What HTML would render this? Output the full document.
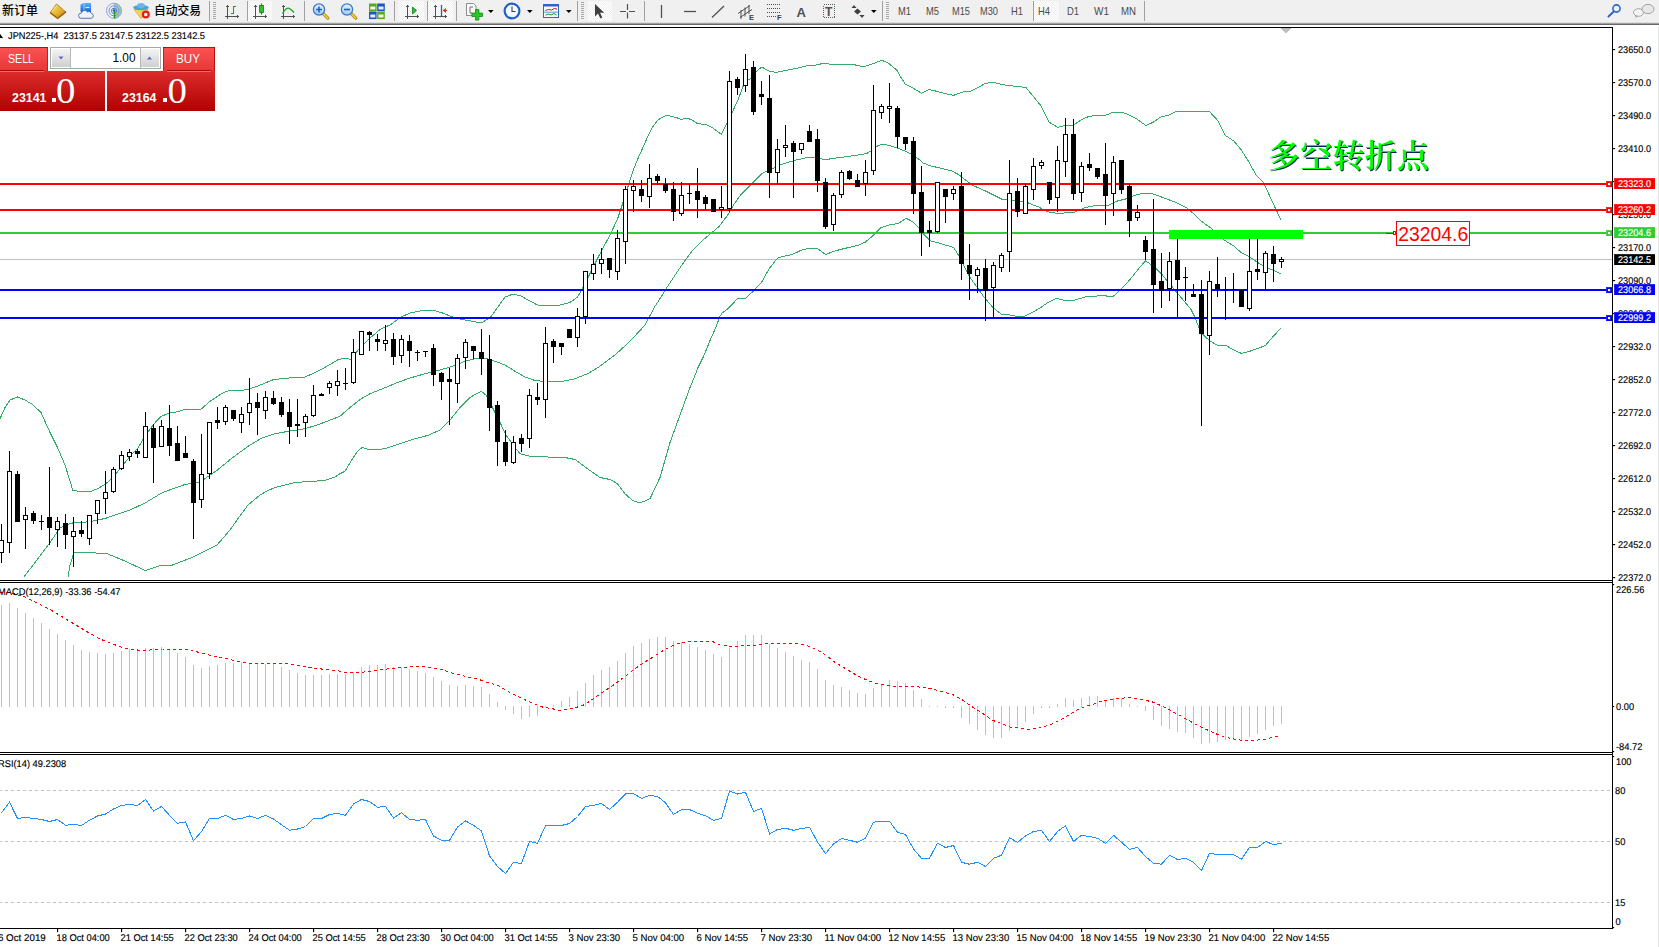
<!DOCTYPE html>
<html><head><meta charset="utf-8"><title>JPN225-,H4</title>
<style>
html,body{margin:0;padding:0;background:#fff;overflow:hidden}
body{width:1659px;height:947px;font-family:"Liberation Sans","Noto Sans CJK SC",sans-serif}
svg{display:block;position:absolute;left:0;top:0}
text{white-space:pre}
</style></head><body>
<svg width="1659" height="947" viewBox="0 0 1659 947">
<g shape-rendering="crispEdges">
<rect x="0" y="25" width="1659" height="922" fill="#fff"/>
<rect x="0" y="27" width="1613" height="1" fill="#000"/>
<rect x="1612" y="27" width="1" height="902" fill="#000"/>
<rect x="0" y="580" width="1613" height="1" fill="#000"/>
<rect x="0" y="582" width="1613" height="1" fill="#000"/>
<rect x="0" y="752" width="1613" height="1" fill="#000"/>
<rect x="0" y="754" width="1613" height="1" fill="#000"/>
<rect x="0" y="928" width="1613" height="1" fill="#000"/>
<rect x="1658" y="25" width="1" height="922" fill="#e3e3e3"/>
<rect x="0" y="259" width="1612" height="1" fill="#c0c0c0"/>
</g>
<g shape-rendering="crispEdges">
<polyline points="0,418.75 5,407.5 10,400 17.5,397 25,400 32.5,404.5 41,412.5 50,432.5 57.5,447.5 65,465 73,490.75 81,491.25 89,492 97.5,488.75 105,484.5 114,476.25 121,467.5 130,456.25 137.5,448.75 145,436.25 153,425 161,416.25 170,413 177.5,411.75 185,409.5 201,409.25 210,401.25 217.5,396.25 226,391.25 234,390 241,390.75 250,388.75 257.5,386.25 265,383 272.5,380 281,378.75 289,378 305,377 312.5,373.75 321,369.5 329,365 337.5,360 341,359 346,358 351,359.5 360,347.5 370,338 381,328.75 391,324.5 400,317.5 410,313 422.5,310.5 434,310.5 442.5,313 452.5,317 462.5,319.5 472.5,321.25 481,323 490,318 497.5,307.5 505,297 512.5,294.25 520,295.5 529,300.5 537.5,305 547.5,305.5 560,305 570,302.5 577.5,297 583.9,285.9 593.3,267 602,249.7 610,235.2 617.9,217.9 623.7,200.5 629.4,182 633.3,170 637.6,159.4 641.5,150.8 645.3,142.1 649.2,133.4 653,126.6 657.4,120.4 661.7,117.5 666.5,115.3 671.4,116.2 676.2,117.5 681,119.4 687.8,118.3 692.6,120.4 697.4,123.6 706.1,124.5 712.8,128.1 721.5,134.4 727.3,122.8 732.1,112.7 737.9,100 743.7,84.8 748,79.8 752.3,77.9 756.7,71.1 761.7,67 768.3,70.8 776.2,72.5 785.6,70.4 795.7,68.5 807.3,65.6 816,65 824.7,63.1 831.9,64.6 842,64.6 853.6,64.6 863.7,66.8 872.4,63.9 881.8,60.3 888.3,63.1 897,70.4 900,75.9 905.1,83.9 913,88.2 921.7,93.3 928.9,89.4 937.6,91.5 944.9,93.6 953.5,95.4 962.2,92.1 970.9,91.1 978.1,87.5 985.4,83.4 992.6,82.1 1001.3,84.3 1010,85.8 1018.7,86.5 1025.9,87.5 1033.1,96.2 1040.3,104.9 1044.7,113.5 1049,122.2 1057.7,127.3 1064.9,125.5 1073.6,125.1 1080.8,120 1088.1,116.7 1095.3,115.4 1105.4,115.4 1112.7,112.4 1121.3,112.1 1128.6,114.7 1137.3,119.3 1145.7,125.5 1153,122.4 1160.2,117.3 1168.9,115.1 1176.1,111.5 1189.1,111.5 1197.8,111.1 1209.4,111.5 1218.1,120.9 1225.3,135.4 1234,141.2 1241.2,149.9 1248.5,161.4 1255.7,174.4 1262.9,181.7 1267.3,190.4 1270,196.9 1275.6,208.7 1280.9,219.6" fill="none" stroke="#33ab69" stroke-width="1"/>
<polyline points="24,577 30,569 40,556 50,542.5 60,528 66,525 72.5,523 89,521.75 105,518.5 130,510 145,503 162.5,492.5 185,484.5 200,482 217.5,470 232,458 250,445 262,438 275,433.75 290,431 305,428.75 320,424 340,416.25 350,407.5 360,399.5 370,393.75 382.5,388.75 397.5,382.5 410,378 425,373.75 440,370 452.5,366.25 465,361.25 475,358.75 485,358 495,361.25 505,365 515,371.25 525,377 535,380.5 547.5,381.75 562.5,381.25 575,378.75 587.5,373.75 600,366.25 615,355 630,341.25 645,325 655,306.25 661.3,296.7 667,287.3 675.7,274.3 684.4,261.3 693.1,249.7 701.8,241 710.5,233.8 719.1,226.5 727.8,215 733.6,204.8 740.8,194.7 748.1,187.5 755.3,180.3 762.5,173.1 769.7,170.2 781.3,164.4 795.7,160.1 807.3,157.5 816,157.2 824.7,159.8 836.3,157.9 847.8,156.5 858,155 866.6,153.6 872.4,150 876.8,146.3 882.5,144.2 889.8,145.6 897,147.8 905.7,151.4 912.9,155 920,160.1 923,162.9 930.2,165.9 938.9,167.7 951.9,171 959.1,174.9 966.4,180.7 973.6,185.8 985.2,190.8 993.9,195.2 1002.5,199.5 1009.8,199.8 1018.5,201 1025.7,201.7 1031.5,204.3 1038.7,207 1047.4,211.8 1057.5,213.5 1074.9,212.1 1085,207.7 1095.1,205.6 1108.1,205.3 1116.8,201.2 1125.5,199 1134.2,195.4 1144.3,193 1153,194 1163.1,197.6 1174.7,201.9 1186.3,207.7 1193.5,213.5 1200.7,220.8 1210.9,228 1219.5,236.7 1226.8,241.7 1234.3,246.4 1241.5,252.9 1250.2,257.2 1257.4,262.3 1266.1,267.3 1273.4,270.2 1280.9,273.8" fill="none" stroke="#33ab69" stroke-width="1"/>
<polyline points="68,577 70,565 74,552.5 89,552.5 107,553.75 125,561 145,570.5 150,569 162,565 170,566 192,557.5 217,545 230,530 237,520 248,505 260,495 268,490.5 275,487.5 295,482.5 325,480.5 335,477 340,473.75 345,471.25 352.5,458.75 357.5,451.25 362,447.5 370,450 385,448.75 397.5,444.5 415,438.75 427.5,435.5 440,430 450,420 460,407.5 470,397.5 481,391.25 486,395 492.5,407.5 500,422.5 506,435 515,447.5 520,453.75 530,456.25 547.5,457 565,457.5 575,459.5 587.5,468.75 600,477.5 610,479.5 617.5,483.75 625,493.75 632.5,500.5 640,503 650,498.75 660,477.5 670,442.5 680,415 690,387.5 694.5,376.7 698.1,367.3 703.9,355.7 709.7,341.3 715.5,328.2 719.8,316.7 722,313.1 727.1,309.4 732.8,303.7 737.5,298.6 745.1,298.6 753.1,291.4 761.8,282 769,268.9 777,258.8 779.1,257.4 792.2,254.5 800.8,250.4 808.1,248.4 817.5,248.4 825.4,254.5 836.2,250.6 847.7,247.7 857.9,245.4 865.1,242.2 872.3,236.4 881,227.7 889.7,224.8 898.4,223.4 906.3,218.3 912.8,221.9 918.6,227.7 924.4,235 930.2,240.8 938.9,242.9 944.7,244.8 953.4,247.3 957.7,253.8 963.7,265.1 969.4,276.7 976.7,286.8 983.9,296.9 992.6,307.1 1001.3,314.3 1010,315 1017.2,316.5 1024.4,316.5 1033.1,312.1 1040.3,307.8 1047.6,302.7 1056.2,298.4 1064.9,300.5 1073.6,300.3 1088.1,296.2 1102.5,295.9 1113.4,296.2 1121.3,289 1130,279.6 1137.4,270.2 1145.3,260.8 1153.3,265.9 1162,274.6 1169.2,283.2 1176.4,291.9 1183.7,300.6 1190.9,309.3 1195.2,318 1198.9,327.4 1202.5,334 1209.7,340.9 1217.7,345.3 1225.6,345.3 1233.6,349.9 1241.5,353.5 1249.5,351.4 1257.4,348.5 1265.4,345.6 1273.3,336.2 1280.9,328.2" fill="none" stroke="#33ab69" stroke-width="1"/>
</g>
<g shape-rendering="crispEdges">
<rect x="0" y="183" width="1612" height="2" fill="#ff0000"/>
<rect x="0" y="209" width="1612" height="2" fill="#ff0000"/>
<rect x="0" y="232" width="1612" height="2" fill="#32cd32"/>
<rect x="0" y="289" width="1612" height="2" fill="#0000ff"/>
<rect x="0" y="317" width="1612" height="2" fill="#0000ff"/>
<rect x="1169" y="230" width="134" height="9" fill="#00ff00"/>
</g>
<g shape-rendering="crispEdges">
<path d="M1 524v39h1v-39zM9 451v102h1v-102zM17 471v51h1v-51zM25 507v42h1v-42zM33 511v13h1v-13zM41 515v15h1v-15zM49 467v78h1v-78zM57 517v30h1v-30zM65 514v35h1v-35zM73 517v50h1v-50zM81 521v16h1v-16zM89 515v30h1v-30zM97 500v24h1v-24zM105 471v43h1v-43zM113 467v26h1v-26zM121 451v19h1v-19zM129 449v12h1v-12zM137 449v9h1v-9zM145 412v45h1v-45zM153 424v59h1v-59zM161 420v26h1v-26zM169 405v51h1v-51zM177 426v35h1v-35zM185 436v22h1v-22zM193 459v80h1v-80zM201 434v74h1v-74zM209 422v57h1v-57zM217 407v22h1v-22zM225 405v20h1v-20zM233 410v11h1v-11zM241 407v26h1v-26zM249 378v47h1v-47zM257 393v42h1v-42zM265 391v28h1v-28zM273 391v14h1v-14zM281 397v20h1v-20zM289 399v45h1v-45zM297 399v38h1v-38zM305 414v23h1v-23zM313 385v32h1v-32zM321 393v3h1v-3zM329 381v13h1v-13zM337 370v26h1v-26zM345 368v22h1v-22zM353 339v45h1v-45zM361 331v24h1v-24zM369 331v20h1v-20zM377 334v17h1v-17zM385 325v26h1v-26zM393 333v32h1v-32zM401 335v28h1v-28zM409 335v32h1v-32zM417 350v11h1v-11zM425 351v6h1v-6zM433 344v42h1v-42zM441 372v28h1v-28zM449 368v57h1v-57zM457 354v49h1v-49zM465 339v30h1v-30zM473 346v13h1v-13zM481 329v46h1v-46zM489 335v96h1v-96zM497 401v65h1v-65zM505 430v36h1v-36zM513 436v28h1v-28zM521 434v18h1v-18zM529 389v59h1v-59zM537 383v22h1v-22zM545 327v91h1v-91zM553 339v24h1v-24zM561 343v12h1v-12zM569 329v9h1v-9zM577 308v39h1v-39zM585 271v53h1v-53zM593 254v26h1v-26zM601 248v26h1v-26zM609 258v20h1v-20zM617 230v50h1v-50zM625 186v78h1v-78zM633 180v32h1v-32zM641 180v22h1v-22zM649 164v44h1v-44zM657 174v11h1v-11zM665 178v15h1v-15zM673 182v39h1v-39zM681 182v34h1v-34zM689 184v20h1v-20zM697 168v50h1v-50zM705 195v15h1v-15zM713 199v13h1v-13zM721 186v32h1v-32zM729 71v141h1v-141zM737 77v18h1v-18zM745 54v38h1v-38zM753 61v54h1v-54zM761 81v24h1v-24zM769 75v123h1v-123zM777 139v45h1v-45zM785 125v32h1v-32zM793 141v57h1v-57zM801 143v11h1v-11zM809 125v17h1v-17zM817 129v63h1v-63zM825 178v51h1v-51zM833 193v38h1v-38zM841 170v28h1v-28zM849 170v10h1v-10zM857 174v13h1v-13zM865 160v36h1v-36zM873 85v90h1v-90zM881 104v15h1v-15zM889 83v40h1v-40zM897 106v42h1v-42zM905 137v13h1v-13zM913 137v77h1v-77zM921 166v90h1v-90zM929 221v26h1v-26zM937 182v51h1v-51zM945 189v34h1v-34zM953 186v14h1v-14zM961 172v108h1v-108zM969 244v56h1v-56zM977 267v26h1v-26zM985 259v62h1v-62zM993 262v56h1v-56zM1001 253v19h1v-19zM1009 160v112h1v-112zM1017 178v39h1v-39zM1025 184v30h1v-30zM1033 158v42h1v-42zM1041 160v9h1v-9zM1049 182v22h1v-22zM1057 146v66h1v-66zM1065 118v59h1v-59zM1073 119v81h1v-81zM1081 162v40h1v-40zM1089 153v18h1v-18zM1097 168v11h1v-11zM1105 143v82h1v-82zM1113 156v60h1v-60zM1121 160v34h1v-34zM1129 184v53h1v-53zM1137 205v16h1v-16zM1145 236v24h1v-24zM1153 199v114h1v-114zM1161 253v55h1v-55zM1169 252v49h1v-49zM1177 239v79h1v-79zM1185 267v34h1v-34zM1193 284v13h1v-13zM1201 280v146h1v-146zM1209 271v84h1v-84zM1217 257v40h1v-40zM1225 277v43h1v-43zM1233 273v30h1v-30zM1241 290v17h1v-17zM1249 239v72h1v-72zM1257 239v41h1v-41zM1265 251v40h1v-40zM1273 246v36h1v-36zM1281 257v11h1v-11z" fill="#000"/>
<path d="M-1 540h5v13h-5zM7 471h5v72h-5zM15 474h5v48h-5zM23 515h5v5h-5zM31 513h5v8h-5zM39 521h5v1h-5zM47 517h5v11h-5zM55 521h5v9h-5zM63 523h5v12h-5zM71 531h5v6h-5zM79 530h5v4h-5zM87 515h5v24h-5zM95 500h5v14h-5zM103 492h5v7h-5zM111 469h5v23h-5zM119 455h5v14h-5zM127 452h5v5h-5zM135 451h5v3h-5zM143 426h5v32h-5zM151 428h5v20h-5zM159 426h5v21h-5zM167 428h5v18h-5zM175 443h5v18h-5zM183 453h5v5h-5zM191 461h5v42h-5zM199 474h5v26h-5zM207 422h5v52h-5zM215 420h5v3h-5zM223 407h5v15h-5zM231 410h5v9h-5zM239 414h5v9h-5zM247 403h5v10h-5zM255 402h5v6h-5zM263 397h5v14h-5zM271 398h5v6h-5zM279 402h5v13h-5zM287 412h5v15h-5zM295 424h5v2h-5zM303 416h5v7h-5zM311 395h5v21h-5zM319 394h5v2h-5zM327 383h5v5h-5zM335 381h5v5h-5zM343 383h5v1h-5zM351 352h5v31h-5zM359 331h5v24h-5zM367 332h5v3h-5zM375 339h5v3h-5zM383 340h5v4h-5zM391 339h5v18h-5zM399 339h5v17h-5zM407 341h5v10h-5zM415 352h5v1h-5zM423 351h5v1h-5zM431 348h5v27h-5zM439 373h5v9h-5zM447 379h5v3h-5zM455 358h5v26h-5zM463 342h5v16h-5zM471 346h5v5h-5zM479 352h5v7h-5zM487 359h5v49h-5zM495 405h5v37h-5zM503 442h5v20h-5zM511 442h5v21h-5zM519 438h5v6h-5zM527 395h5v44h-5zM535 397h5v3h-5zM543 343h5v57h-5zM551 341h5v6h-5zM559 343h5v4h-5zM567 329h5v9h-5zM575 316h5v22h-5zM583 271h5v46h-5zM591 264h5v10h-5zM599 259h5v5h-5zM607 258h5v12h-5zM615 238h5v34h-5zM623 189h5v53h-5zM631 186h5v5h-5zM639 189h5v7h-5zM647 178h5v19h-5zM655 176h5v5h-5zM663 184h5v7h-5zM671 189h5v23h-5zM679 195h5v19h-5zM687 193h5v1h-5zM695 191h5v9h-5zM703 197h5v7h-5zM711 199h5v13h-5zM719 207h5v3h-5zM727 81h5v128h-5zM735 79h5v9h-5zM743 69h5v17h-5zM751 67h5v45h-5zM759 94h5v3h-5zM767 98h5v75h-5zM775 149h5v24h-5zM783 145h5v3h-5zM791 143h5v9h-5zM799 143h5v7h-5zM807 131h5v11h-5zM815 139h5v42h-5zM823 182h5v45h-5zM831 195h5v30h-5zM839 172h5v23h-5zM847 171h5v8h-5zM855 180h5v7h-5zM863 172h5v12h-5zM871 110h5v61h-5zM879 106h5v7h-5zM887 106h5v3h-5zM895 108h5v29h-5zM903 137h5v7h-5zM911 141h5v53h-5zM919 192h5v41h-5zM927 230h5v3h-5zM935 182h5v50h-5zM943 189h5v8h-5zM951 189h5v5h-5zM959 186h5v78h-5zM967 265h5v9h-5zM975 269h5v7h-5zM983 268h5v23h-5zM991 265h5v23h-5zM999 255h5v13h-5zM1007 193h5v59h-5zM1015 191h5v21h-5zM1023 186h5v28h-5zM1031 166h5v24h-5zM1039 162h5v4h-5zM1047 182h5v18h-5zM1055 160h5v38h-5zM1063 134h5v28h-5zM1071 134h5v60h-5zM1079 166h5v27h-5zM1087 164h5v4h-5zM1095 168h5v9h-5zM1103 174h5v22h-5zM1111 162h5v32h-5zM1119 160h5v30h-5zM1127 186h5v35h-5zM1135 212h5v6h-5zM1143 240h5v12h-5zM1151 249h5v36h-5zM1159 281h5v10h-5zM1167 261h5v28h-5zM1175 260h5v20h-5zM1183 277h5v1h-5zM1191 294h5v3h-5zM1199 294h5v40h-5zM1207 281h5v55h-5zM1215 284h5v5h-5zM1223 289h5v1h-5zM1231 289h5v1h-5zM1239 290h5v17h-5zM1247 271h5v38h-5zM1255 269h5v3h-5zM1263 253h5v20h-5zM1271 254h5v10h-5zM1279 259h5v3h-5z" fill="#000"/>
<path d="M0 541h3v11h-3zM8 472h3v70h-3zM24 516h3v3h-3zM56 522h3v7h-3zM72 532h3v4h-3zM88 516h3v22h-3zM96 501h3v12h-3zM104 493h3v5h-3zM112 470h3v21h-3zM120 456h3v12h-3zM128 453h3v3h-3zM144 427h3v30h-3zM160 427h3v19h-3zM200 475h3v24h-3zM208 423h3v50h-3zM224 408h3v13h-3zM240 415h3v7h-3zM248 404h3v8h-3zM264 398h3v12h-3zM304 417h3v5h-3zM312 396h3v19h-3zM328 384h3v3h-3zM336 382h3v3h-3zM352 353h3v29h-3zM360 332h3v22h-3zM384 341h3v2h-3zM400 340h3v15h-3zM456 359h3v24h-3zM464 343h3v14h-3zM512 443h3v19h-3zM528 396h3v42h-3zM544 344h3v55h-3zM576 317h3v20h-3zM584 272h3v44h-3zM592 265h3v8h-3zM600 260h3v3h-3zM616 239h3v32h-3zM624 190h3v51h-3zM632 187h3v3h-3zM648 179h3v17h-3zM680 196h3v17h-3zM720 208h3v1h-3zM728 82h3v126h-3zM744 70h3v15h-3zM776 150h3v22h-3zM784 146h3v1h-3zM800 144h3v5h-3zM832 196h3v28h-3zM840 173h3v21h-3zM864 173h3v10h-3zM872 111h3v59h-3zM880 107h3v5h-3zM888 107h3v1h-3zM936 183h3v48h-3zM952 190h3v3h-3zM976 270h3v5h-3zM992 266h3v21h-3zM1000 256h3v11h-3zM1008 194h3v57h-3zM1024 187h3v26h-3zM1032 167h3v22h-3zM1040 163h3v2h-3zM1056 161h3v36h-3zM1064 135h3v26h-3zM1080 167h3v25h-3zM1112 163h3v30h-3zM1136 213h3v4h-3zM1168 262h3v26h-3zM1208 282h3v53h-3zM1248 272h3v36h-3zM1264 254h3v18h-3zM1280 260h3v1h-3z" fill="#fff"/>
</g>
<g shape-rendering="crispEdges">
<path d="M1 605v102h1v-102zM9 603v104h1v-104zM17 608v99h1v-99zM25 613v94h1v-94zM33 618v89h1v-89zM41 623v84h1v-84zM49 629v78h1v-78zM57 634v73h1v-73zM65 640v67h1v-67zM73 645v62h1v-62zM81 650v57h1v-57zM89 652v55h1v-55zM97 653v54h1v-54zM105 654v53h1v-53zM113 653v54h1v-54zM121 651v56h1v-56zM129 649v58h1v-58zM137 649v58h1v-58zM145 648v59h1v-59zM153 648v59h1v-59zM161 647v60h1v-60zM169 650v57h1v-57zM177 653v54h1v-54zM185 657v50h1v-50zM193 665v42h1v-42zM201 668v39h1v-39zM209 666v41h1v-41zM217 665v42h1v-42zM225 663v44h1v-44zM233 663v44h1v-44zM241 662v45h1v-45zM249 663v44h1v-44zM257 664v43h1v-43zM265 664v43h1v-43zM273 664v43h1v-43zM281 667v40h1v-40zM289 670v37h1v-37zM297 673v34h1v-34zM305 675v32h1v-32zM313 675v32h1v-32zM321 675v32h1v-32zM329 674v33h1v-33zM337 674v33h1v-33zM345 674v33h1v-33zM353 672v35h1v-35zM361 667v40h1v-40zM369 665v42h1v-42zM377 665v42h1v-42zM385 664v43h1v-43zM393 667v40h1v-40zM401 668v39h1v-39zM409 669v38h1v-38zM417 671v36h1v-36zM425 673v34h1v-34zM433 677v30h1v-30zM441 681v26h1v-26zM449 685v22h1v-22zM457 686v21h1v-21zM465 685v22h1v-22zM473 686v21h1v-21zM481 687v20h1v-20zM489 694v13h1v-13zM497 702v5h1v-5zM505 706v4h1v-4zM513 706v8h1v-8zM521 706v13h1v-13zM529 706v11h1v-11zM537 706v10h1v-10zM545 706v1h1v-1zM553 705v2h1v-2zM561 701v6h1v-6zM569 697v10h1v-10zM577 691v16h1v-16zM585 683v24h1v-24zM593 675v32h1v-32zM601 670v37h1v-37zM609 667v40h1v-40zM617 661v46h1v-46zM625 653v54h1v-54zM633 646v61h1v-61zM641 643v64h1v-64zM649 639v68h1v-68zM657 637v70h1v-70zM665 637v70h1v-70zM673 641v66h1v-66zM681 642v65h1v-65zM689 644v63h1v-63zM697 647v60h1v-60zM705 650v57h1v-57zM713 654v53h1v-53zM721 657v50h1v-50zM729 648v59h1v-59zM737 641v66h1v-66zM745 635v72h1v-72zM753 635v72h1v-72zM761 635v72h1v-72zM769 644v63h1v-63zM777 648v59h1v-59zM785 652v55h1v-55zM793 656v51h1v-51zM801 660v47h1v-47zM809 662v45h1v-45zM817 669v38h1v-38zM825 680v27h1v-27zM833 685v22h1v-22zM841 687v20h1v-20zM849 690v17h1v-17zM857 693v14h1v-14zM865 694v13h1v-13zM873 688v19h1v-19zM881 684v23h1v-23zM889 680v27h1v-27zM897 681v26h1v-26zM905 683v24h1v-24zM913 690v17h1v-17zM921 699v8h1v-8zM929 706v1h1v-1zM937 706v1h1v-1zM945 706v2h1v-2zM953 706v2h1v-2zM961 706v12h1v-12zM969 706v18h1v-18zM977 706v24h1v-24zM985 706v29h1v-29zM993 706v32h1v-32zM1001 706v32h1v-32zM1009 706v25h1v-25zM1017 706v20h1v-20zM1025 706v16h1v-16zM1033 706v8h1v-8zM1041 706v2h1v-2zM1049 706v2h1v-2zM1057 704v3h1v-3zM1065 698v9h1v-9zM1073 700v7h1v-7zM1081 698v9h1v-9zM1089 696v11h1v-11zM1097 696v11h1v-11zM1105 700v7h1v-7zM1113 698v9h1v-9zM1121 698v9h1v-9zM1129 704v3h1v-3zM1137 706v1h1v-1zM1145 706v5h1v-5zM1153 706v14h1v-14zM1161 706v20h1v-20zM1169 706v23h1v-23zM1177 706v26h1v-26zM1185 706v27h1v-27zM1193 706v32h1v-32zM1201 706v38h1v-38zM1209 706v37h1v-37zM1217 706v36h1v-36zM1225 706v34h1v-34zM1233 706v34h1v-34zM1241 706v34h1v-34zM1249 706v31h1v-31zM1257 706v28h1v-28zM1265 706v24h1v-24zM1273 706v20h1v-20zM1281 706v18h1v-18z" fill="#c0c0c0"/>
<polyline points="0,592 12.5,593.25 25,597 37.5,603.25 50,609.5 62.5,617 75,624.5 87.5,632 100,639 112.5,644 125,648.25 137.5,650 150,650 162.5,649 187.5,649 200,652.75 212.5,655.75 225,658.25 237.5,661.5 250,663.25 262.5,663.75 282.5,663.25 295,665 312.5,667.75 325,669.5 337.5,670.75 345,672.5 360,672.5 375,670.75 387.5,669 400,667.75 415,666.5 427.5,667 440,669 452.5,673.25 465,676.25 477.5,679 490,683.25 497.5,685.25 507.5,691.25 520,697.5 532.5,703.25 542.5,707 552.5,708.75 560,710.75 567.5,709.5 577.5,707 585,704.5 595,697.5 605,690.75 615,684 625,676.5 635,668.75 645,662 655,655.75 665,649.5 675,644.5 685,642 697.5,641.5 712.5,641.5 720,645 730,646.5 745,645.75 755,645.25 765,643.5 780,643.25 797.5,643.25 810,646.5 820,651.5 830,658.25 833.75,661.5 845,668.25 857.5,675.75 870,681.5 880,684.5 892.5,686.25 915,686.5 930,688.25 940,691.25 952.5,694.5 962.5,700 972.5,707 982.5,713.25 992.5,720.25 1002.5,724 1010,727 1020,728.25 1030,729.5 1040,727.75 1050,725 1060,720.25 1070,714 1080,708.25 1092.5,704.5 1102.5,700.75 1115,698.75 1130,697.5 1142.5,699.5 1152.5,702 1162.5,706.25 1172.5,711.5 1182.5,717 1192.5,722.5 1202.5,727.75 1212.7,732.3 1218,734.7 1224.7,737.2 1230.7,738.4 1236.2,739.3 1242.2,740.4 1248.2,740.4 1254.2,740.4 1260.3,739.8 1266.3,739 1272.3,737.4 1279,735.7" fill="none" stroke="#ff0000" stroke-width="1" stroke-dasharray="3 3"/>
</g>
<g shape-rendering="crispEdges">
<line x1="-1" y1="790.5" x2="1611" y2="790.5" stroke="#c0c0c0" stroke-width="1" stroke-dasharray="3 3"/>
<line x1="-1" y1="841.5" x2="1611" y2="841.5" stroke="#c0c0c0" stroke-width="1" stroke-dasharray="3 3"/>
<line x1="-1" y1="902.5" x2="1611" y2="902.5" stroke="#c0c0c0" stroke-width="1" stroke-dasharray="3 3"/>
<polyline points="1.5,812.75 9.5,802.25 17.5,818.5 25.5,817.25 33.5,818.5 41.5,819.5 49.5,821.5 57.5,819.5 65.5,825.25 73.5,824.5 81.5,825.5 89.5,820.25 97.5,816 105.5,814 113.5,809 121.5,805.5 129.5,804.5 137.5,805.5 145.5,799.5 153.5,811 161.5,806.5 169.5,815.25 177.5,823.25 185.5,822 193.5,840.75 201.5,831.5 209.5,818.5 217.5,818.5 225.5,815.25 233.5,819.5 241.5,818.5 249.5,816 257.5,818.5 265.5,815.25 273.5,819 281.5,824.75 289.5,830.25 297.5,829 305.5,826.5 313.5,818.5 321.5,818.5 329.5,814.5 337.5,813.5 345.5,815.25 353.5,804 361.5,799.5 369.5,801.5 377.5,807.25 385.5,806.5 393.5,818 401.5,812.75 409.5,819.5 417.5,820.25 425.5,819.5 433.5,836 441.5,840.25 449.5,840.25 457.5,827 465.5,821 473.5,825.25 481.5,831 489.5,856 497.5,866.5 505.5,873.5 513.5,862.25 521.5,863.5 529.5,841.5 537.5,843.25 545.5,825.75 553.5,825.5 561.5,825.5 569.5,823.5 577.5,816.5 585.5,806.5 593.5,805.25 601.5,803.5 609.5,809.5 617.5,802.25 625.5,794 633.5,793.5 641.5,798.5 649.5,795.25 657.5,796.5 665.5,802.75 673.5,814.5 681.5,809.5 689.5,809.5 697.5,813.25 705.5,815.75 713.5,820.25 721.5,818.5 729.5,791 737.5,794 745.5,792.25 753.5,811.5 761.5,808.25 769.5,834 777.5,829.5 785.5,828.25 793.5,830.25 801.5,828.5 809.5,827.25 817.5,842 825.5,853.5 833.5,844 841.5,838.5 849.5,840.25 857.5,842.25 865.5,838.25 873.5,822.25 881.5,821.25 889.5,821.25 897.5,832.25 905.5,834.5 913.5,849 921.5,858.25 929.5,858.25 937.5,843.25 945.5,847.5 953.5,845.5 961.5,862.25 969.5,864.25 977.5,862.25 985.5,866.5 993.5,858.25 1001.5,855.25 1009.5,837.75 1017.5,842.25 1025.5,836 1033.5,831.5 1041.5,830.25 1049.5,841.5 1057.5,831.5 1065.5,825.75 1073.5,841.5 1081.5,835.25 1089.5,836.5 1097.5,838.25 1105.5,843.25 1113.5,835.25 1121.5,842.25 1129.5,849.25 1137.5,847.5 1145.5,856.5 1153.5,863.25 1161.5,864.25 1169.5,855.25 1177.5,859.5 1185.5,858.25 1193.5,862.25 1201.5,870.5 1209.5,853.3 1217.5,854.5 1225.5,854.5 1233.5,854.5 1241.5,859.3 1249.5,847.4 1257.5,847.4 1265.5,841.4 1273.5,844.6 1281.5,843.2" fill="none" stroke="#1e90ff" stroke-width="1"/>
</g>
<g font-family='"Liberation Sans","Noto Sans CJK SC",sans-serif' font-size="9.8" text-rendering="geometricPrecision" fill="#000" stroke="#000" stroke-width="0.15">
<g shape-rendering="crispEdges">
<path d="M1613 49h2v1h-2zM1613 82h2v1h-2zM1613 115h2v1h-2zM1613 148h2v1h-2zM1613 181h2v1h-2zM1613 214h2v1h-2zM1613 247h2v1h-2zM1613 280h2v1h-2zM1613 313h2v1h-2zM1613 346h2v1h-2zM1613 379h2v1h-2zM1613 412h2v1h-2zM1613 445h2v1h-2zM1613 478h2v1h-2zM1613 511h2v1h-2zM1613 544h2v1h-2zM1613 577h2v1h-2zM1613 584h1v1h-1zM1613 706h1v1h-1zM1613 751h1v1h-1zM1613 756h1v1h-1zM1613 927h1v1h-1zM57 929v3h1v-3zM121 929v3h1v-3zM185 929v3h1v-3zM249 929v3h1v-3zM313 929v3h1v-3zM377 929v3h1v-3zM441 929v3h1v-3zM505 929v3h1v-3zM569 929v3h1v-3zM633 929v3h1v-3zM697 929v3h1v-3zM761 929v3h1v-3zM825 929v3h1v-3zM889 929v3h1v-3zM953 929v3h1v-3zM1017 929v3h1v-3zM1081 929v3h1v-3zM1145 929v3h1v-3zM1209 929v3h1v-3zM1273 929v3h1v-3z" fill="#000"/>
</g>
<text x="1618" y="53" textLength="33" lengthAdjust="spacingAndGlyphs">23650.0</text>
<text x="1618" y="86" textLength="33" lengthAdjust="spacingAndGlyphs">23570.0</text>
<text x="1618" y="119" textLength="33" lengthAdjust="spacingAndGlyphs">23490.0</text>
<text x="1618" y="152" textLength="33" lengthAdjust="spacingAndGlyphs">23410.0</text>
<text x="1618" y="185" textLength="33" lengthAdjust="spacingAndGlyphs">23330.0</text>
<text x="1618" y="218" textLength="33" lengthAdjust="spacingAndGlyphs">23250.0</text>
<text x="1618" y="251" textLength="33" lengthAdjust="spacingAndGlyphs">23170.0</text>
<text x="1618" y="284" textLength="33" lengthAdjust="spacingAndGlyphs">23090.0</text>
<text x="1618" y="317" textLength="33" lengthAdjust="spacingAndGlyphs">23010.0</text>
<text x="1618" y="350" textLength="33" lengthAdjust="spacingAndGlyphs">22932.0</text>
<text x="1618" y="383" textLength="33" lengthAdjust="spacingAndGlyphs">22852.0</text>
<text x="1618" y="416" textLength="33" lengthAdjust="spacingAndGlyphs">22772.0</text>
<text x="1618" y="449" textLength="33" lengthAdjust="spacingAndGlyphs">22692.0</text>
<text x="1618" y="482" textLength="33" lengthAdjust="spacingAndGlyphs">22612.0</text>
<text x="1618" y="515" textLength="33" lengthAdjust="spacingAndGlyphs">22532.0</text>
<text x="1618" y="548" textLength="33" lengthAdjust="spacingAndGlyphs">22452.0</text>
<text x="1618" y="581" textLength="33" lengthAdjust="spacingAndGlyphs">22372.0</text>
<text x="1616" y="593" textLength="28.4" lengthAdjust="spacingAndGlyphs">226.56</text>
<text x="1616" y="710" textLength="18.1" lengthAdjust="spacingAndGlyphs">0.00</text>
<text x="1616" y="749.5" textLength="26.4" lengthAdjust="spacingAndGlyphs">-84.72</text>
<text x="1616" y="765" textLength="15.5" lengthAdjust="spacingAndGlyphs">100</text>
<text x="1615" y="794" textLength="10.3" lengthAdjust="spacingAndGlyphs">80</text>
<text x="1615" y="845" textLength="10.3" lengthAdjust="spacingAndGlyphs">50</text>
<text x="1615" y="906" textLength="10.3" lengthAdjust="spacingAndGlyphs">15</text>
<text x="1615.5" y="925" textLength="5.2" lengthAdjust="spacingAndGlyphs">0</text>
<text x="-7.5" y="941" textLength="53.3" lengthAdjust="spacingAndGlyphs">16 Oct 2019</text>
<text x="56.5" y="941" textLength="53.3" lengthAdjust="spacingAndGlyphs">18 Oct 04:00</text>
<text x="120.5" y="941" textLength="53.3" lengthAdjust="spacingAndGlyphs">21 Oct 14:55</text>
<text x="184.5" y="941" textLength="53.3" lengthAdjust="spacingAndGlyphs">22 Oct 23:30</text>
<text x="248.5" y="941" textLength="53.3" lengthAdjust="spacingAndGlyphs">24 Oct 04:00</text>
<text x="312.5" y="941" textLength="53.3" lengthAdjust="spacingAndGlyphs">25 Oct 14:55</text>
<text x="376.5" y="941" textLength="53.3" lengthAdjust="spacingAndGlyphs">28 Oct 23:30</text>
<text x="440.5" y="941" textLength="53.3" lengthAdjust="spacingAndGlyphs">30 Oct 04:00</text>
<text x="504.5" y="941" textLength="53.3" lengthAdjust="spacingAndGlyphs">31 Oct 14:55</text>
<text x="568.5" y="941" textLength="51.6" lengthAdjust="spacingAndGlyphs">3 Nov 23:30</text>
<text x="632.5" y="941" textLength="51.6" lengthAdjust="spacingAndGlyphs">5 Nov 04:00</text>
<text x="696.5" y="941" textLength="51.6" lengthAdjust="spacingAndGlyphs">6 Nov 14:55</text>
<text x="760.5" y="941" textLength="51.6" lengthAdjust="spacingAndGlyphs">7 Nov 23:30</text>
<text x="824.5" y="941" textLength="56.7" lengthAdjust="spacingAndGlyphs">11 Nov 04:00</text>
<text x="888.5" y="941" textLength="56.7" lengthAdjust="spacingAndGlyphs">12 Nov 14:55</text>
<text x="952.5" y="941" textLength="56.7" lengthAdjust="spacingAndGlyphs">13 Nov 23:30</text>
<text x="1016.5" y="941" textLength="56.7" lengthAdjust="spacingAndGlyphs">15 Nov 04:00</text>
<text x="1080.5" y="941" textLength="56.7" lengthAdjust="spacingAndGlyphs">18 Nov 14:55</text>
<text x="1144.5" y="941" textLength="56.7" lengthAdjust="spacingAndGlyphs">19 Nov 23:30</text>
<text x="1208.5" y="941" textLength="56.7" lengthAdjust="spacingAndGlyphs">21 Nov 04:00</text>
<text x="1272.5" y="941" textLength="56.7" lengthAdjust="spacingAndGlyphs">22 Nov 14:55</text>
<text x="-2" y="595" textLength="122.5" lengthAdjust="spacingAndGlyphs">MACD(12,26,9) -33.36 -54.47</text>
<text x="-2" y="767" textLength="68.2" lengthAdjust="spacingAndGlyphs">RSI(14) 49.2308</text>
<text x="8" y="38.8" textLength="197" lengthAdjust="spacingAndGlyphs">JPN225-,H4  23137.5 23147.5 23122.5 23142.5</text>
<path d="M0 34l3 4h-3z" fill="#000"/>
<path d="M1281 28h10l-5 5z" fill="#c0c0c0"/>
</g>
<g font-family='"Liberation Sans","Noto Sans CJK SC",sans-serif' font-size="9.8" text-rendering="geometricPrecision" stroke="#fff" stroke-width="0.15">
<g shape-rendering="crispEdges">
<rect x="1606" y="181" width="6" height="6" fill="#ff0000"/>
<rect x="1608" y="183" width="2" height="2" fill="#fff"/>
<rect x="1614" y="178" width="41" height="11" fill="#ff0000"/>
<rect x="1606" y="207" width="6" height="6" fill="#ff0000"/>
<rect x="1608" y="209" width="2" height="2" fill="#fff"/>
<rect x="1614" y="204" width="41" height="11" fill="#ff0000"/>
<rect x="1606" y="230" width="6" height="6" fill="#32cd32"/>
<rect x="1608" y="232" width="2" height="2" fill="#fff"/>
<rect x="1614" y="227" width="41" height="11" fill="#32cd32"/>
<rect x="1606" y="287" width="6" height="6" fill="#0000ff"/>
<rect x="1608" y="289" width="2" height="2" fill="#fff"/>
<rect x="1614" y="284" width="41" height="11" fill="#0000ff"/>
<rect x="1606" y="315" width="6" height="6" fill="#0000ff"/>
<rect x="1608" y="317" width="2" height="2" fill="#fff"/>
<rect x="1614" y="312" width="41" height="11" fill="#0000ff"/>
<rect x="1614" y="254" width="41" height="11" fill="#000"/>
</g>
<text x="1618" y="186.7" fill="#fff" textLength="33" lengthAdjust="spacingAndGlyphs">23323.0</text>
<text x="1618" y="212.7" fill="#fff" textLength="33" lengthAdjust="spacingAndGlyphs">23260.2</text>
<text x="1618" y="235.7" fill="#fff" textLength="33" lengthAdjust="spacingAndGlyphs">23204.6</text>
<text x="1618" y="292.7" fill="#fff" textLength="33" lengthAdjust="spacingAndGlyphs">23066.8</text>
<text x="1618" y="320.7" fill="#fff" textLength="33" lengthAdjust="spacingAndGlyphs">22999.2</text>
<text x="1618" y="262.7" fill="#fff" textLength="33" lengthAdjust="spacingAndGlyphs">23142.5</text>
</g>
<g font-family='"Liberation Serif","Noto Serif CJK SC",serif' font-size="32" font-weight="600">
<text x="1268" y="166.5" textLength="161" fill="#00ff00" style="filter:drop-shadow(1px 1px 0 #002850)">多空转折点</text>
</g>
<g shape-rendering="crispEdges">
<rect x="1386" y="233" width="8" height="1" fill="#ff0000"/>
<rect x="1393" y="231" width="3" height="4" fill="#ff0000"/>
<rect x="1394" y="232" width="1" height="2" fill="#fff"/>
<rect x="1396.5" y="221.5" width="73" height="24" fill="#fff" stroke="#ff0000" stroke-width="1"/>
</g>
<text x="1398.2" y="241" font-family='"Liberation Sans","Noto Sans CJK SC",sans-serif' font-size="21" fill="#ff0000" textLength="70" lengthAdjust="spacingAndGlyphs">23204.6</text>
<defs>
<linearGradient id="gold" x1="0" y1="0" x2="1" y2="1"><stop offset="0" stop-color="#ffe98a"/><stop offset="0.5" stop-color="#e8b830"/><stop offset="1" stop-color="#b87a10"/></linearGradient>
<linearGradient id="blu" x1="0" y1="0" x2="0" y2="1"><stop offset="0" stop-color="#5ab0ff"/><stop offset="1" stop-color="#0a5ad0"/></linearGradient>
<linearGradient id="lens" x1="0" y1="0" x2="0" y2="1"><stop offset="0" stop-color="#e8f4ff"/><stop offset="1" stop-color="#9cc8f0"/></linearGradient>
<linearGradient id="sellT" x1="0" y1="0" x2="0" y2="1"><stop offset="0" stop-color="#fd5353"/><stop offset="1" stop-color="#e63535"/></linearGradient>
<linearGradient id="sellB" x1="0" y1="0" x2="0" y2="1"><stop offset="0" stop-color="#dc2c2c"/><stop offset="1" stop-color="#b00000"/></linearGradient>
<linearGradient id="btn" x1="0" y1="0" x2="0" y2="1"><stop offset="0" stop-color="#f4f4f4"/><stop offset="1" stop-color="#cfcfcf"/></linearGradient>
<pattern id="chk" width="2" height="2" patternUnits="userSpaceOnUse"><rect width="2" height="2" fill="#f0f0f0"/><rect width="1" height="1" fill="#fff"/><rect x="1" y="1" width="1" height="1" fill="#fff"/></pattern>
</defs>
<g shape-rendering="crispEdges">
<rect x="0" y="0" width="1659" height="25" fill="#f0f0f0"/>
<rect x="0" y="22" width="1659" height="1" fill="#dcdcdc"/>
<rect x="0" y="23" width="1659" height="1" fill="#a0a0a0"/>
<rect x="0" y="24" width="1659" height="1" fill="#696969"/>
<rect x="0" y="25" width="1659" height="2" fill="#fff"/>
<rect x="248" y="1" width="24" height="20" fill="url(#chk)"/>
<rect x="399" y="1" width="25" height="20" fill="url(#chk)"/>
<rect x="428" y="1" width="25" height="20" fill="url(#chk)"/>
<rect x="588" y="1" width="24" height="20" fill="url(#chk)"/>
<rect x="1034" y="1" width="25" height="20" fill="url(#chk)"/>
<rect x="209" y="1" width="1" height="20" fill="#a0a0a0"/>
<rect x="247" y="1" width="1" height="20" fill="#a0a0a0"/>
<rect x="304" y="1" width="1" height="20" fill="#a0a0a0"/>
<rect x="394" y="1" width="1" height="20" fill="#a0a0a0"/>
<rect x="427" y="1" width="1" height="20" fill="#a0a0a0"/>
<rect x="456" y="1" width="1" height="20" fill="#a0a0a0"/>
<rect x="577" y="1" width="1" height="20" fill="#a0a0a0"/>
<rect x="644" y="1" width="1" height="20" fill="#a0a0a0"/>
<rect x="882" y="1" width="1" height="20" fill="#a0a0a0"/>
<rect x="1033" y="1" width="1" height="20" fill="#a0a0a0"/>
<rect x="1144" y="1" width="1" height="20" fill="#a0a0a0"/>
<rect x="213" y="2" width="3" height="1" fill="#a8a8a8"/>
<rect x="213" y="4" width="3" height="1" fill="#a8a8a8"/>
<rect x="213" y="6" width="3" height="1" fill="#a8a8a8"/>
<rect x="213" y="8" width="3" height="1" fill="#a8a8a8"/>
<rect x="213" y="10" width="3" height="1" fill="#a8a8a8"/>
<rect x="213" y="12" width="3" height="1" fill="#a8a8a8"/>
<rect x="213" y="14" width="3" height="1" fill="#a8a8a8"/>
<rect x="213" y="16" width="3" height="1" fill="#a8a8a8"/>
<rect x="213" y="18" width="3" height="1" fill="#a8a8a8"/>
<rect x="581" y="2" width="3" height="1" fill="#a8a8a8"/>
<rect x="581" y="4" width="3" height="1" fill="#a8a8a8"/>
<rect x="581" y="6" width="3" height="1" fill="#a8a8a8"/>
<rect x="581" y="8" width="3" height="1" fill="#a8a8a8"/>
<rect x="581" y="10" width="3" height="1" fill="#a8a8a8"/>
<rect x="581" y="12" width="3" height="1" fill="#a8a8a8"/>
<rect x="581" y="14" width="3" height="1" fill="#a8a8a8"/>
<rect x="581" y="16" width="3" height="1" fill="#a8a8a8"/>
<rect x="581" y="18" width="3" height="1" fill="#a8a8a8"/>
<rect x="886" y="2" width="3" height="1" fill="#a8a8a8"/>
<rect x="886" y="4" width="3" height="1" fill="#a8a8a8"/>
<rect x="886" y="6" width="3" height="1" fill="#a8a8a8"/>
<rect x="886" y="8" width="3" height="1" fill="#a8a8a8"/>
<rect x="886" y="10" width="3" height="1" fill="#a8a8a8"/>
<rect x="886" y="12" width="3" height="1" fill="#a8a8a8"/>
<rect x="886" y="14" width="3" height="1" fill="#a8a8a8"/>
<rect x="886" y="16" width="3" height="1" fill="#a8a8a8"/>
<rect x="886" y="18" width="3" height="1" fill="#a8a8a8"/>
</g>
<g font-family='"Liberation Sans","Noto Sans CJK SC",sans-serif' font-size="12" font-weight="500" fill="#000">
<text x="2" y="14.5" textLength="36" lengthAdjust="spacingAndGlyphs">新订单</text>
<text x="154" y="14.5" textLength="47" lengthAdjust="spacingAndGlyphs">自动交易</text>
</g>
<g font-family='"Liberation Sans","Noto Sans CJK SC",sans-serif' font-size="11" fill="#4a4a4a">
<text x="898" y="15" textLength="13" lengthAdjust="spacingAndGlyphs">M1</text>
<text x="926" y="15" textLength="13" lengthAdjust="spacingAndGlyphs">M5</text>
<text x="952" y="15" textLength="18" lengthAdjust="spacingAndGlyphs">M15</text>
<text x="980" y="15" textLength="18" lengthAdjust="spacingAndGlyphs">M30</text>
<text x="1011" y="15" textLength="12" lengthAdjust="spacingAndGlyphs">H1</text>
<text x="1038" y="15" textLength="12" lengthAdjust="spacingAndGlyphs">H4</text>
<text x="1067" y="15" textLength="12" lengthAdjust="spacingAndGlyphs">D1</text>
<text x="1094" y="15" textLength="15" lengthAdjust="spacingAndGlyphs">W1</text>
<text x="1121" y="15" textLength="15" lengthAdjust="spacingAndGlyphs">MN</text>
</g>
<path d="M56.5 4L66 12.2 57.8 18.8 50 13z" fill="url(#gold)" stroke="#a8700c" stroke-width="0.8"/>
<path d="M50.3 13.4l7.4 5.6 8.4-6.6v-1.6l-8.4 6.6-7.4-5.6z" fill="#9a6408"/><path d="M52 11.5l4.5-6" stroke="#fff4b0" stroke-width="0.8" fill="none" opacity="0.8"/>
<path d="M80.5 4.5l3-1.5h7.5v10h-7.5l-3-1.5z" fill="url(#blu)"/>
<path d="M84 3.5v9.5" stroke="#bfe0ff" stroke-width="0.8"/><path d="M85.5 7.5h4" stroke="#d8ecff" stroke-width="1.2"/>
<path d="M81 18.3a2.6 2.6 0 0 1 .3-5.2 3.4 3.4 0 0 1 6.2-1.2 2.6 2.6 0 0 1 3.8 1.5 2.5 2.5 0 0 1 0 4.9z" fill="#eef3fa" stroke="#4a68a8" stroke-width="0.9"/>
<g fill="none" stroke-width="1">
<path d="M114 10.8L114 18.6A7.8 7.8 0 0 0 121.8 10.8A7.8 7.8 0 0 0 114 3z" fill="#8cc090" stroke="none" opacity="0.75"/>
<circle cx="114" cy="10.8" r="7.5" stroke="#8aa6e0"/><circle cx="114" cy="10.8" r="5" stroke="#6f92dc"/><circle cx="114" cy="10.8" r="2.6" stroke="#4f78d8"/>
<circle cx="114" cy="10.5" r="1.3" fill="#2a50c8" stroke="none"/>
<path d="M114.5 11v7.5" stroke="#18a018" stroke-width="1.4"/>
</g>
<path d="M134 9.5h14l-7 9z" fill="#f4d24a" stroke="#c8a020" stroke-width="0.6"/>
<ellipse cx="141" cy="7.6" rx="7.8" ry="2.6" fill="#4f9fd8"/><ellipse cx="141" cy="5.6" rx="4" ry="2.6" fill="#6cb4e6"/>
<circle cx="145.8" cy="14.6" r="4" fill="#e02010"/><rect x="144.3" y="13.1" width="3" height="3" fill="#fff"/>
<g shape-rendering="crispEdges" fill="#505050"><rect x="227" y="5" width="1" height="14"/><rect x="225" y="16" width="14" height="1"/><rect x="226" y="6" width="3" height="1"/><rect x="237" y="15" width="1" height="3"/></g>
<g shape-rendering="crispEdges" fill="#18a018"><rect x="233" y="6" width="1" height="8"/><rect x="234" y="6" width="2" height="1"/><rect x="231" y="13" width="2" height="1"/></g>
<g shape-rendering="crispEdges" fill="#505050"><rect x="255" y="5" width="1" height="14"/><rect x="253" y="16" width="14" height="1"/><rect x="254" y="6" width="3" height="1"/><rect x="265" y="15" width="1" height="3"/></g>
<path d="M261.5 3.5v11" stroke="#108010" stroke-width="1.2"/><rect x="259.6" y="5.5" width="3.8" height="7" fill="#30c030" stroke="#108010" stroke-width="0.8"/>
<g shape-rendering="crispEdges" fill="#505050"><rect x="283" y="5" width="1" height="14"/><rect x="281" y="16" width="14" height="1"/><rect x="282" y="6" width="3" height="1"/><rect x="293" y="15" width="1" height="3"/></g>
<path d="M282.5 13.5q4-7 7-5t4.5 4" stroke="#18a018" stroke-width="1.3" fill="none"/>
<path d="M323.2 13.7l4.6 4.4" stroke="#a88010" stroke-width="3.2" stroke-linecap="round"/><path d="M323.2 13.7l4.6 4.4" stroke="#f0d040" stroke-width="1.6" stroke-linecap="round"/>
<circle cx="319" cy="9.5" r="5.6" fill="url(#lens)" stroke="#3c78c8" stroke-width="1.3"/>
<path d="M316 9.5h6M319 6.5v6" stroke="#2060c0" stroke-width="1.6"/>
<path d="M351.2 13.7l4.6 4.4" stroke="#a88010" stroke-width="3.2" stroke-linecap="round"/><path d="M351.2 13.7l4.6 4.4" stroke="#f0d040" stroke-width="1.6" stroke-linecap="round"/>
<circle cx="347" cy="9.5" r="5.6" fill="url(#lens)" stroke="#3c78c8" stroke-width="1.3"/>
<path d="M344 9.5h6" stroke="#2060c0" stroke-width="1.6"/>
<rect x="369" y="3.5" width="7.6" height="7.6" fill="#58a820"/><rect x="370.3" y="6.5" width="5" height="3" fill="#fff" opacity="0.9"/>
<rect x="377.2" y="3.5" width="7.6" height="7.6" fill="#1858c0"/><rect x="378.5" y="6.5" width="5" height="3" fill="#fff" opacity="0.9"/>
<rect x="369" y="11.5" width="7.6" height="7.6" fill="#1858c0"/><rect x="370.3" y="14.5" width="5" height="3" fill="#fff" opacity="0.9"/>
<rect x="377.2" y="11.5" width="7.6" height="7.6" fill="#58a820"/><rect x="378.5" y="14.5" width="5" height="3" fill="#fff" opacity="0.9"/>
<g shape-rendering="crispEdges" fill="#505050"><rect x="407" y="5" width="1" height="14"/><rect x="405" y="16" width="14" height="1"/><rect x="406" y="6" width="3" height="1"/><rect x="417" y="15" width="1" height="3"/></g>
<path d="M412.5 7l4 3.5-4 3.5z" fill="#30c030" stroke="#108010" stroke-width="0.8"/>
<g shape-rendering="crispEdges" fill="#505050"><rect x="435" y="5" width="1" height="14"/><rect x="433" y="16" width="14" height="1"/><rect x="434" y="6" width="3" height="1"/><rect x="445" y="15" width="1" height="3"/></g>
<path d="M441.5 5v11" stroke="#2060c0" stroke-width="1.3"/><path d="M442.5 10.5l3.5-2.5v5z" fill="#d04000"/><path d="M445 10.5h2" stroke="#d04000" stroke-width="1.2"/>
<path d="M466.5 3.5h7l2.5 2.5v9.5h-9.5z" fill="#fafafa" stroke="#808080" stroke-width="0.9"/>
<path d="M470 7h3M470 7v6h2" stroke="#606060" stroke-width="0.9" fill="none"/>
<path d="M475.5 9.5h3.4v3.6h3.6v3.4h-3.6v3.6h-3.4v-3.6h-3.6v-3.4h3.6z" fill="#28c828" stroke="#0c8c0c" stroke-width="0.8"/>
<circle cx="512" cy="11" r="7.4" fill="#f4f8ff" stroke="#1c60c8" stroke-width="2.2"/><path d="M512 6.5v5h3.5" stroke="#404040" stroke-width="1.1" fill="none"/>
<rect x="543.5" y="4.5" width="15" height="13" fill="#f4f8ff" stroke="#2c68c0" stroke-width="1"/><rect x="543" y="4" width="16" height="2.5" fill="#2c68c0"/>
<path d="M545.5 10.5l3-1 3 .5 3-1.5 2.5.5" stroke="#c02010" stroke-width="1" fill="none"/><path d="M545.5 15l3-1 2.5 1 3-1.5 2.5 1.5" stroke="#18a018" stroke-width="1" fill="none"/><path d="M544 12.2h14" stroke="#2c68c0" stroke-width="0.7"/>
<path d="M488 10h5.6l-2.8 3z" fill="#000"/>
<path d="M527 10h5.6l-2.8 3z" fill="#000"/>
<path d="M566 10h5.6l-2.8 3z" fill="#000"/>
<path d="M871 10h5.6l-2.8 3z" fill="#000"/>
<path d="M595 4v12.5l3-3 2.3 5 2-1-2.3-4.8h4.2z" fill="#404040"/>
<path d="M627.5 4v6M627.5 12.5v6M620 11.5h6M629 11.5h6" stroke="#505050" stroke-width="1.2" fill="none"/>
<path d="M661.5 5v13" stroke="#505050" stroke-width="1.3"/><path d="M684 11.5h12" stroke="#505050" stroke-width="1.3"/><path d="M712 17.5l12-11.5" stroke="#505050" stroke-width="1.3"/>
<g stroke="#505050" stroke-width="1" fill="none"><path d="M738 13.5l12-8M740 17.5l12-8M741 10v9M745 7.5v9M749 5v9"/></g>
<text x="749" y="19.5" font-family='"Liberation Sans","Noto Sans CJK SC",sans-serif' font-size="7.5" font-weight="bold" fill="#404040">E</text>
<g stroke="#505050" stroke-width="1" stroke-dasharray="1 1" fill="none" shape-rendering="crispEdges"><path d="M767 4.5h13M767 8.5h13M767 12.5h13M767 16.5h9"/></g>
<text x="777" y="19.5" font-family='"Liberation Sans","Noto Sans CJK SC",sans-serif' font-size="7.5" font-weight="bold" fill="#404040">F</text>
<text x="796.5" y="16.5" font-family='"Liberation Sans","Noto Sans CJK SC",sans-serif' font-size="13" font-weight="bold" fill="#505050">A</text>
<rect x="823.5" y="4.5" width="11" height="13" fill="none" stroke="#606060" stroke-width="1" stroke-dasharray="1 1" shape-rendering="crispEdges"/>
<text x="825" y="16" font-family='"Liberation Sans","Noto Sans CJK SC",sans-serif' font-size="12" font-weight="bold" fill="#505050">T</text>
<path d="M851.5 8l2.5-3 2.5 3zM859.5 15l2.5 3 2.5-3zM854 11.5l3.5-3 3.5 3-3.5 3z" fill="#404040"/>
<circle cx="1616.5" cy="8.5" r="3.6" fill="#e8f2ff" stroke="#2c68c8" stroke-width="1.6"/><path d="M1613.8 11.6l-5.3 5" stroke="#2c68c8" stroke-width="2" stroke-linecap="round"/>
<ellipse cx="1638.5" cy="12.5" rx="5" ry="3.8" fill="#f4f4f4" stroke="#9a9a9a" stroke-width="0.9"/><ellipse cx="1648" cy="9" rx="6" ry="4.6" fill="#e8e8ec" stroke="#9a9a9a" stroke-width="0.9"/><path d="M1636 15.5l-1 2.5 3-2z" fill="#9a9a9a"/>
<g shape-rendering="crispEdges">
<rect x="0" y="47" width="48" height="25" fill="url(#sellT)"/><rect x="47" y="47" width="1" height="24" fill="#cc1a1a"/>
<rect x="0" y="71" width="105" height="40" fill="url(#sellB)"/>
<rect x="163" y="47" width="52" height="25" fill="url(#sellT)"/><rect x="163" y="47" width="1" height="24" fill="#cc1a1a"/><rect x="214" y="47" width="1" height="64" fill="#b81010"/>
<rect x="107" y="71" width="108" height="40" fill="url(#sellB)"/>
<rect x="0" y="47" width="48" height="1" fill="#c80000"/><rect x="163" y="47" width="52" height="1" fill="#c80000"/>
<rect x="0" y="70" width="44" height="1" fill="#a80c0c"/><rect x="0" y="71" width="44" height="1" fill="#f06a6a"/>
<rect x="167" y="70" width="44" height="1" fill="#a80c0c"/><rect x="167" y="71" width="44" height="1" fill="#f06a6a"/>
<rect x="50" y="47" width="111" height="22" fill="#fff" stroke="none"/>
<rect x="50.5" y="47.5" width="110" height="21" fill="#fff" stroke="#a8a8a8" stroke-width="1"/>
<rect x="52" y="49" width="18" height="18" fill="url(#btn)"/><rect x="141" y="49" width="18" height="18" fill="url(#btn)"/>
<rect x="70" y="48" width="1" height="20" fill="#b8b8b8"/><rect x="140" y="48" width="1" height="20" fill="#b8b8b8"/>
</g>
<path d="M58.5 56.5h5l-2.5 3z" fill="#5868c8"/><path d="M147 59.5h5l-2.5-3z" fill="#5868c8"/>
<g font-family='"Liberation Sans","Noto Sans CJK SC",sans-serif'>
<text x="8" y="62.5" font-size="12" fill="#fff" textLength="26" lengthAdjust="spacingAndGlyphs">SELL</text>
<text x="176" y="62.5" font-size="12" fill="#fff" textLength="24" lengthAdjust="spacingAndGlyphs">BUY</text>
<text x="112.5" y="62" font-size="12" fill="#000" textLength="23" lengthAdjust="spacingAndGlyphs">1.00</text>
<text x="12" y="101.5" font-size="12.4" font-weight="bold" fill="#fff" textLength="34.5" lengthAdjust="spacingAndGlyphs">23141</text>
<text x="122" y="101.5" font-size="12.4" font-weight="bold" fill="#fff" textLength="34.5" lengthAdjust="spacingAndGlyphs">23164</text>
</g>
<rect x="52" y="98" width="4" height="4" fill="#fff"/><rect x="163" y="98" width="4" height="4" fill="#fff"/>
<g font-family='"Liberation Serif",serif' font-size="36" fill="#fff">
<text x="56" y="102.6" textLength="19.4" lengthAdjust="spacingAndGlyphs">0</text>
<text x="167.5" y="102.6" textLength="19.4" lengthAdjust="spacingAndGlyphs">0</text>
</g>
</svg>
</body></html>
